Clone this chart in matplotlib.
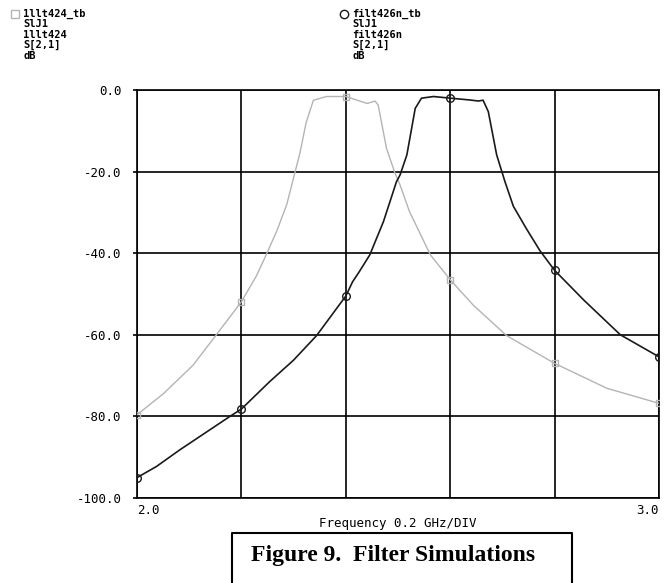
import numpy as np
import matplotlib
matplotlib.use('Agg')
import matplotlib.pyplot as plt
from matplotlib.lines import Line2D

# S21 (dB) of the two filters
freq_424 = [2.000, 2.050, 2.107, 2.152, 2.200, 2.229, 2.246, 2.268, 2.287, 2.299,
            2.312, 2.324, 2.338, 2.363, 2.400, 2.441, 2.456, 2.462, 2.478, 2.494,
            2.504, 2.522, 2.562, 2.600, 2.644, 2.708, 2.800, 2.900, 3.000]
s21_424 = [-79.6, -74.5, -67.5, -60.0, -51.9, -45.5, -40.8, -34.5, -28.0, -22.0,
           -15.5, -8.0, -2.5, -1.6, -1.6, -3.3, -2.7, -3.7, -14.3, -20.3,
           -23.3, -29.8, -40.4, -46.5, -52.7, -60.2, -67.0, -73.1, -76.8]

freq_426 = [2.000, 2.037, 2.082, 2.178, 2.200, 2.254, 2.300, 2.344, 2.400, 2.413,
            2.426, 2.446, 2.472, 2.497, 2.504, 2.517, 2.533, 2.545, 2.568, 2.600,
            2.638, 2.654, 2.663, 2.673, 2.689, 2.705, 2.721, 2.746, 2.772, 2.800,
            2.856, 2.926, 3.000]
s21_426 = [-95.0, -92.3, -88.2, -80.0, -78.2, -71.5, -66.2, -60.2, -50.5, -47.0,
           -44.5, -40.4, -32.3, -22.5, -20.8, -15.9, -4.5, -2.0, -1.6, -2.0,
           -2.45, -2.7, -2.5, -5.3, -15.9, -22.5, -28.5, -34.0, -39.4, -44.2,
           -51.5, -60.0, -65.4]

legend_424 = ["1llt424_tb", "SlJ1", "1llt424", "S[2,1]", "dB"]
legend_426 = ["filt426n_tb", "SlJ1", "filt426n", "S[2,1]", "dB"]

x_ticks = np.arange(2.0, 3.01, 0.2)
y_ticks = np.arange(-100, 1, 20)

W, H = 668, 583
GRAY = "#b4b4b4"
DARK = "#1a1a1a"
MONO = "DejaVu Sans Mono"


def marks(freqs):
    # markers sit on every grid division (0.2 GHz)
    return [i for i, f in enumerate(freqs) if np.isclose((f - 2.0) / 0.2, round((f - 2.0) / 0.2))]


fig = plt.figure(figsize=(W / 100, H / 100), dpi=100)
fig.patch.set_facecolor("white")
ax = fig.add_axes([137 / W, 1 - 498 / H, 522 / W, 408 / H])

ax.plot(freq_424, s21_424, color=GRAY, lw=1.0, marker="s", ms=5,
        mfc="none", mec=GRAY, mew=1.0, markevery=marks(freq_424), zorder=3)
ax.plot(freq_426, s21_426, color=DARK, lw=1.2, marker="o", ms=5.5,
        mfc="none", mec=DARK, mew=1.0, markevery=marks(freq_426), zorder=4)

ax.set_xlim(2.0, 3.0)
ax.set_ylim(-100, 0)
ax.set_xticks(x_ticks)
ax.set_yticks(y_ticks)
ax.set_xticklabels([])
ax.set_yticklabels([f"{v:.1f}" for v in y_ticks], family=MONO, fontsize=9)
ax.tick_params(axis="x", length=0)
ax.tick_params(axis="y", direction="out", length=3, width=1.2, pad=8)
ax.grid(True, color="black", lw=1.2)
for s in ax.spines.values():
    s.set_linewidth(1.2)

xt = ax.get_xaxis_transform()
ax.text(2.0, -0.015, "2.0", transform=xt, ha="left", va="top", family=MONO, fontsize=9)
ax.text(3.0, -0.015, "3.0", transform=xt, ha="right", va="top", family=MONO, fontsize=9)
fig.text(398 / W, 1 - 523 / H, "Frequency 0.2 GHz/DIV", ha="center", va="center",
         family=MONO, fontsize=9)

# legend blocks at the top
for x0, mk, col, lines in [(15, "s", GRAY, legend_424), (344, "o", DARK, legend_426)]:
    fig.add_artist(Line2D([x0 / W], [1 - 14 / H], marker=mk, ms=6, mfc="none",
                          mec=col, mew=1.0, ls="none", transform=fig.transFigure))
    for i, t in enumerate(lines):
        fig.text((x0 + 8) / W, 1 - (14 + 10.4 * i) / H, t, ha="left", va="center",
                 family=MONO, fontsize=7.5, fontweight="bold")

# caption box (open at the bottom edge)
bx0, bx1, by = 232 / W, 572 / W, 1 - 533 / H
fig.add_artist(Line2D([bx0, bx0, bx1, bx1], [-0.05, by, by, -0.05], color="black",
                      lw=1.5, transform=fig.transFigure))
fig.text(393 / W, 1 - 556 / H, "Figure 9.  Filter Simulations", ha="center", va="center",
         family="Liberation Serif", fontsize=17, fontweight="bold")

fig.savefig("out.png", dpi=100, facecolor="white")
